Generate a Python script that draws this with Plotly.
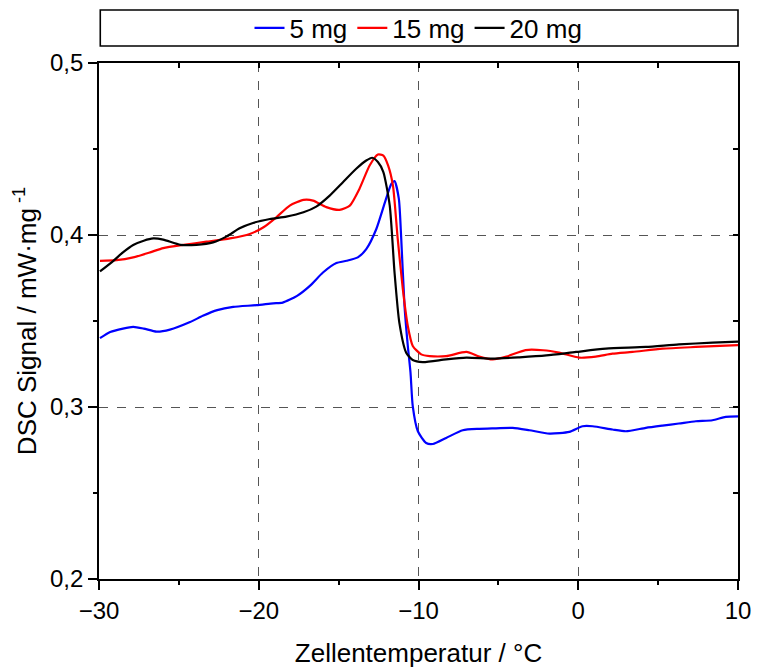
import plotly.graph_objects as go

# DSC signal vs. cell temperature for three sample masses
t_5mg = [-29.94, -29.3, -28.5, -27.86, -27.2, -26.4, -25.56, -24.3, -23.5, -22.6, -21.6, -20.14,
         -19.1, -18.5, -17.6, -16.8, -15.98, -15.14, -14.5, -13.8, -13.27, -12.64, -12.1, -11.7,
         -11.5, -11.23, -11.08, -10.875, -10.67, -10.5, -10.36, -10.04, -9.52, -9.1, -8.27, -7.23,
         -6.2, -5.15, -4.1, -3.06, -1.8, -0.56, 0.27, 0.9, 2.14, 2.98, 4.23, 5.27, 6.3, 7.36, 8.4,
         9.23, 10.0]
dsc_5mg = [0.340, 0.3436, 0.3456, 0.3466, 0.3456, 0.3438, 0.345, 0.3494, 0.353, 0.3563, 0.3582,
           0.3592, 0.3603, 0.3607, 0.3646, 0.3704, 0.3782, 0.3837, 0.385, 0.387, 0.3918, 0.4035,
           0.419, 0.4297, 0.4313, 0.421, 0.3977, 0.3588, 0.3355, 0.3200, 0.3005, 0.2859, 0.2791,
           0.2785, 0.282, 0.2865, 0.2873, 0.2876, 0.2879, 0.2865, 0.2845, 0.2855, 0.2888, 0.2888,
           0.2869, 0.2859, 0.2879, 0.2892, 0.2904, 0.2917, 0.2923, 0.2943, 0.2946]

t_15mg = [-29.94, -28.9, -27.86, -26.8, -25.98, -24.7, -23.27, -21.8, -20.56, -19.7, -18.9, -18.06,
          -17.2, -16.6, -15.77, -14.94, -14.3, -13.7, -13.06, -12.54, -12.2, -11.9, -11.6, -11.3,
          -10.98, -10.67, -10.36, -9.83, -9.3, -8.27, -7.0, -6.2, -5.35, -4.5, -3.3, -2.2, -1.2,
          0.06, 1.1, 2.14, 3.4, 5.27, 7.36, 10.0]
dsc_15mg = [0.385, 0.3854, 0.387, 0.3899, 0.3924, 0.3943, 0.3961, 0.398, 0.4006, 0.4045, 0.4103,
            0.4171, 0.4204, 0.420, 0.4162, 0.4146, 0.4171, 0.4268, 0.4404, 0.4468, 0.4462, 0.4404,
            0.4288, 0.3977, 0.3685, 0.3471, 0.3355, 0.3306, 0.3296, 0.3296, 0.332, 0.3293, 0.3277,
            0.3293, 0.3331, 0.333, 0.3316, 0.3287, 0.3293, 0.331, 0.332, 0.3339, 0.3349, 0.336]

t_20mg = [-29.94, -29.1, -28.5, -27.86, -27.2, -26.6, -25.98, -24.9, -23.9, -22.86, -22.0, -21.2,
          -20.36, -19.3, -18.27, -17.2, -16.4, -15.56, -14.73, -13.9, -13.27, -12.9, -12.54, -12.2,
          -11.8, -11.5, -11.2, -10.77, -10.36, -9.73, -8.27, -7.0, -5.35, -3.68, -2.0, -0.14, 1.73,
          4.23, 6.3, 8.4, 10.0]
dsc_20mg = [0.3788, 0.385, 0.3899, 0.3942, 0.3967, 0.398, 0.3973, 0.3943, 0.3943, 0.3957, 0.3992,
            0.4039, 0.407, 0.4093, 0.4107, 0.4132, 0.4165, 0.4229, 0.4307, 0.4385, 0.4433, 0.4449,
            0.4424, 0.4366, 0.4171, 0.3782, 0.3491, 0.3316, 0.3273, 0.3261, 0.3277, 0.3287, 0.3281,
            0.3289, 0.330, 0.332, 0.3339, 0.3349, 0.3364, 0.3374, 0.338]

series_names = ["5 mg", "15 mg", "20 mg"]
series_colors = ["#0000ff", "#ff0000", "#000000"]

x_range = [-30, 10]
y_range = [0.2, 0.5]

FONT = "Liberation Sans, Arial, sans-serif"

fig = go.Figure()
for name, color, xs, ys in zip(series_names, series_colors,
                               [t_5mg, t_15mg, t_20mg], [dsc_5mg, dsc_15mg, dsc_20mg]):
    fig.add_trace(go.Scatter(x=xs, y=ys, mode="lines", name=name,
                             line=dict(color=color, width=2.2, shape="spline", smoothing=0.6)))

# carrier trace for the top/right frame axes
fig.add_trace(go.Scatter(x=[None], y=[None], xaxis="x2", yaxis="y2",
                         showlegend=False, hoverinfo="skip"))

grid = dict(showgrid=True, gridcolor="#555555", gridwidth=1.2, griddash="dash")

fig.update_layout(
    width=757, height=668,
    margin=dict(l=99, r=19, t=63, b=89),
    paper_bgcolor="white", plot_bgcolor="white",
    separators=",.",
    font=dict(family=FONT, size=23, color="black"),
    showlegend=True,
    legend=dict(orientation="h", xref="paper", x=0.5, xanchor="center",
                yref="container", y=0.958, yanchor="middle",
                font=dict(size=26), bgcolor="rgba(0,0,0,0)", itemwidth=30,
                tracegroupgap=0),
    xaxis=dict(range=x_range, dtick=10, tick0=-30, showline=True, linecolor="black",
               linewidth=1.6, ticks="outside", ticklen=9, tickwidth=1.5, tickcolor="black",
               tickfont=dict(size=24), automargin=False,
               minor=dict(dtick=5, ticks="outside", ticklen=4, tickwidth=1.5, tickcolor="black",
                          showgrid=False),
               zeroline=False,
               title=dict(text="Zellentemperatur / °C", standoff=26, font=dict(size=26)),
               **grid),
    yaxis=dict(range=y_range, dtick=0.1, tick0=0.2, tickformat=".1f", showline=True,
               linecolor="black", linewidth=1.6, ticks="outside", ticklen=9, tickwidth=1.5,
               tickcolor="black", tickfont=dict(size=24), automargin=False,
               minor=dict(dtick=0.05, ticks="outside", ticklen=4, tickwidth=1.5,
                          tickcolor="black", showgrid=False),
               zeroline=False,
               title=dict(text="DSC Signal / mW·mg<sup> -1</sup>", standoff=6,
                          font=dict(size=26)),
               **grid),
    xaxis2=dict(range=x_range, overlaying="x", side="top", dtick=10, tick0=-30,
                showline=True, linecolor="black", linewidth=1.6, ticks="inside", ticklen=5,
                tickwidth=1.5, tickcolor="black", showticklabels=False, showgrid=False,
                zeroline=False, automargin=False,
                minor=dict(dtick=5, ticks="inside", ticklen=5, tickwidth=1.5, tickcolor="black")),
    yaxis2=dict(range=y_range, overlaying="y", side="right", dtick=0.1, tick0=0.2,
                showline=True, linecolor="black", linewidth=1.6, ticks="inside", ticklen=5,
                tickwidth=1.5, tickcolor="black", showticklabels=False, showgrid=False,
                zeroline=False, automargin=False,
                minor=dict(dtick=0.05, ticks="inside", ticklen=5, tickwidth=1.5,
                           tickcolor="black")),
)

# frame around the legend, spanning the plot width
fig.add_shape(type="rect", xref="paper", yref="paper", x0=0.002, x1=1.0, y0=1.033, y1=1.1027,
              line=dict(color="black", width=1.6), fillcolor="rgba(0,0,0,0)")

fig.write_html("out.html")
